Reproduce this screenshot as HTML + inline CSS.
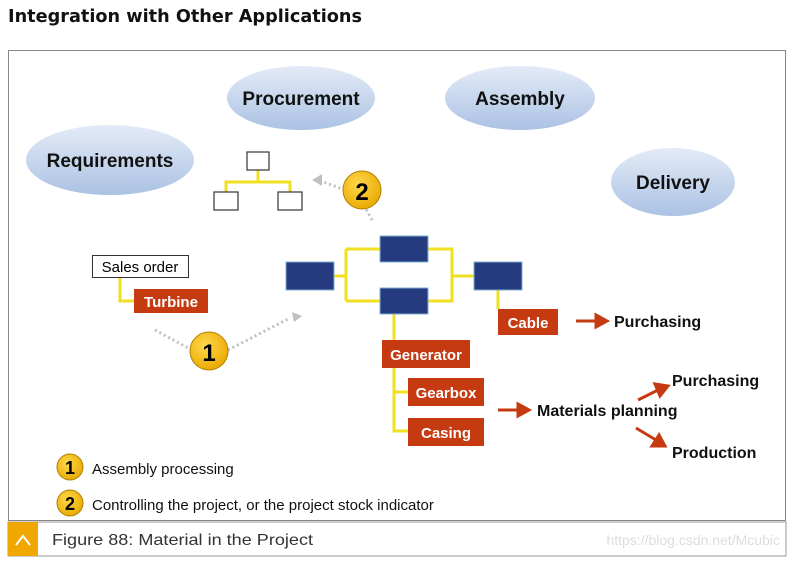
<!DOCTYPE html>
<html><head><style>
body{margin:0;width:794px;height:558px;background:#fff;overflow:hidden;font-family:"Liberation Sans",sans-serif}
</style></head><body>
<svg width="794" height="558" xmlns="http://www.w3.org/2000/svg" font-family="Liberation Sans, sans-serif">
<defs>
<linearGradient id="g" x1="0" y1="0" x2="0" y2="1"><stop offset="0" stop-color="#e4ebf7"/><stop offset="1" stop-color="#abc2e4"/></linearGradient>
<radialGradient id="y" cx="0.4" cy="0.35" r="0.7"><stop offset="0" stop-color="#ffd84a"/><stop offset="1" stop-color="#e8a800"/></radialGradient>
</defs>
<text x="8" y="22" font-size="18" font-weight="bold" font-family="DejaVu Sans, sans-serif" fill="#111" textLength="354" lengthAdjust="spacingAndGlyphs">Integration with Other Applications</text>
<rect x="8.5" y="50.5" width="777" height="470" fill="#fff" stroke="#888"/>
<g font-weight="bold" font-size="19" text-anchor="middle" fill="#111">
<ellipse cx="301" cy="98" rx="74" ry="32" fill="url(#g)"/><text x="301" y="105">Procurement</text>
<ellipse cx="520" cy="98" rx="75" ry="32" fill="url(#g)"/><text x="520" y="105">Assembly</text>
<ellipse cx="110" cy="160" rx="84" ry="35" fill="url(#g)"/><text x="110" y="167">Requirements</text>
<ellipse cx="673" cy="182" rx="62" ry="34" fill="url(#g)"/><text x="673" y="189">Delivery</text>
</g>
<g stroke="#f0e020" stroke-width="3" fill="none">
<path d="M258 170V182M226 192V182H290V192"/>
<path d="M334 276H346M346 249V301M346 249H380M346 301H380M428 249H452V301H428M452 276H474"/>
<path d="M120 277V301H134M498 290V309M394 314V340M394 368V431H408M394 392H408"/>
</g>
<g stroke="#333" fill="#fff" stroke-width="1.2">
<rect x="247" y="152" width="22" height="18"/><rect x="214" y="192" width="24" height="18"/><rect x="278" y="192" width="24" height="18"/>
</g>
<g fill="#253a7f" stroke="#7fb0d0" stroke-width="1">
<rect x="286" y="262" width="48" height="28"/><rect x="380" y="236" width="48" height="26"/><rect x="380" y="288" width="48" height="26"/><rect x="474" y="262" width="48" height="28"/>
</g>
<rect x="92.5" y="255.5" width="96" height="22" fill="#fff" stroke="#333"/>
<text x="140" y="272" font-size="15" text-anchor="middle">Sales order</text>
<g fill="#c63a12"><rect x="134" y="289" width="74" height="24"/><rect x="498" y="309" width="60" height="26"/><rect x="382" y="340" width="88" height="28"/><rect x="408" y="378" width="76" height="28"/><rect x="408" y="418" width="76" height="28"/></g>
<g fill="#fff" font-weight="bold" font-size="15" text-anchor="middle">
<text x="171" y="307">Turbine</text><text x="528" y="328">Cable</text><text x="426" y="360">Generator</text><text x="446" y="398">Gearbox</text><text x="446" y="438">Casing</text>
</g>
<g stroke="#c0c0c0" stroke-width="3" stroke-dasharray="2 3" fill="none">
<path d="M155 330L188 348M228 350L290 318"/><path d="M345 190L318 180M364 205L372 220"/>
</g>
<path d="M292 312L302 316L294 322Z M312 180L322 174L322 186Z" fill="#c0c0c0"/>
<circle cx="209" cy="351" r="19" fill="url(#y)" stroke="#b08000"/><text x="209" y="361" font-size="24" font-weight="bold" text-anchor="middle">1</text>
<circle cx="362" cy="190" r="19" fill="url(#y)" stroke="#b08000"/><text x="362" y="200" font-size="24" font-weight="bold" text-anchor="middle">2</text>
<g stroke="#c63a12" stroke-width="3" fill="#c63a12">
<path d="M576 321H596" /><path d="M596 315L607 321L596 327Z"/>
<path d="M498 410H518"/><path d="M518 404L529 410L518 416Z"/>
<path d="M638 400L658 390"/><path d="M655 384L668 386L660 396Z"/>
<path d="M636 428L656 440"/><path d="M652 446L665 446L659 435Z"/>
</g>
<g font-weight="bold" font-size="16" fill="#111">
<text x="614" y="327">Purchasing</text><text x="537" y="416">Materials planning</text><text x="672" y="386">Purchasing</text><text x="672" y="458">Production</text>
</g>
<circle cx="70" cy="467" r="13" fill="url(#y)" stroke="#b08000"/><text x="70" y="474" font-size="18" font-weight="bold" text-anchor="middle">1</text>
<circle cx="70" cy="503" r="13" fill="url(#y)" stroke="#b08000"/><text x="70" y="510" font-size="18" font-weight="bold" text-anchor="middle">2</text>
<text x="92" y="474" font-size="15" fill="#111">Assembly processing</text>
<text x="92" y="510" font-size="15" fill="#111">Controlling the project, or the project stock indicator</text>
<rect x="8" y="522" width="778" height="34" fill="#fff" stroke="#999"/>
<rect x="8" y="522" width="30" height="34" fill="#f0a800"/>
<path d="M16 545L23 536L30 545" stroke="#fff" stroke-width="2" fill="none"/>
<text x="52" y="545" font-size="16" fill="#333" textLength="261" lengthAdjust="spacingAndGlyphs">Figure 88: Material in the Project</text>
<text x="780" y="545" font-size="14" fill="#ddd" text-anchor="end">https://blog.csdn.net/Mcubic</text>
</svg>
</body></html>
